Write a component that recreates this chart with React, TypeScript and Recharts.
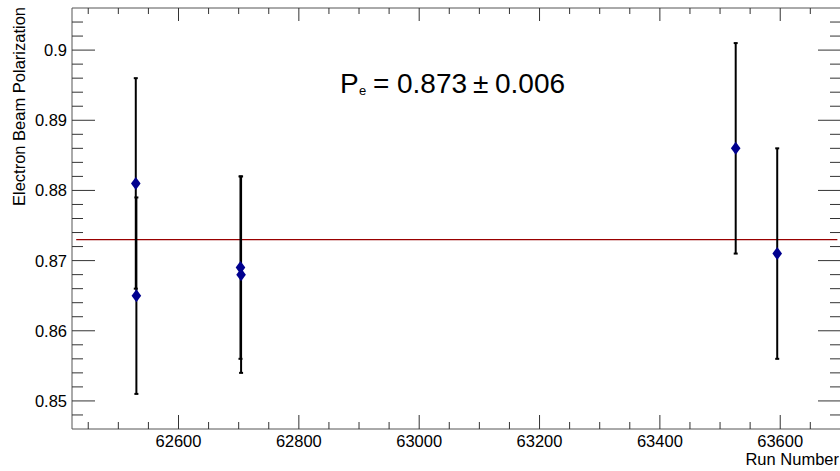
// Electron beam polarization per run, ROOT-style frame with inward ticks.
import { ErrorBar, ReferenceLine, Scatter, ScatterChart, XAxis, YAxis } from "recharts";

const runNumbers = [62529, 62530, 62703, 62704, 63526, 63595];
const polarization = [0.881, 0.865, 0.869, 0.868, 0.886, 0.871];
const polarizationErr = [0.015, 0.014, 0.013, 0.014, 0.015, 0.015];

const fitValue = 0.873;
const fitRuns = [62430, 63695];

const xDomain = [62423, 63701];
const yDomain = [0.846, 0.906];

const xMajorTicks = [62600, 62800, 63000, 63200, 63400, 63600];
const xMinorTicks = [
  62450, 62500, 62550, 62650, 62700, 62750, 62850, 62900, 62950, 63050,
  63100, 63150, 63250, 63300, 63350, 63450, 63500, 63550, 63650,
];
const yMajorTicks = [0.85, 0.86, 0.87, 0.88, 0.89, 0.9];
const yMinorTicks = [
  0.848, 0.852, 0.854, 0.856, 0.858, 0.862, 0.864, 0.866, 0.868, 0.872,
  0.874, 0.876, 0.878, 0.882, 0.884, 0.886, 0.888, 0.892, 0.894, 0.896,
  0.898, 0.902, 0.904,
];

const points = runNumbers.map((run, i) => ({
  run,
  pol: polarization[i],
  err: polarizationErr[i],
}));

const xTicks = [...xMajorTicks, ...xMinorTicks].sort((a, b) => a - b);
const yTicks = [...yMajorTicks, ...yMinorTicks].sort((a, b) => a - b);

const FONT = "'Liberation Sans', Arial, Helvetica, sans-serif";
const TICK = "#333";
const AXIS = "#555";

const isMajor = (list: number[], v: number) => list.some((m) => Math.abs(m - v) < 1e-9);

function BottomTick({ x, y, payload }: any) {
  const major = isMajor(xMajorTicks, payload.value);
  return (
    <g>
      <line x1={x} y1={y} x2={x} y2={y - (major ? 14 : 7)} stroke={TICK} />
      {major && (
        <text x={x} y={y + 18} textAnchor="middle" fontSize={16.5} fontFamily={FONT} fill="#000">
          {payload.value}
        </text>
      )}
    </g>
  );
}

function TopTick({ x, y, payload }: any) {
  const major = isMajor(xMajorTicks, payload.value);
  return <line x1={x} y1={y} x2={x} y2={y + (major ? 13 : 6)} stroke={TICK} />;
}

function LeftTick({ x, y, payload }: any) {
  const major = isMajor(yMajorTicks, payload.value);
  return (
    <g>
      <line x1={x} y1={y} x2={x + (major ? 23 : 11)} y2={y} stroke={TICK} />
      {major && (
        <text x={x - 5} y={y + 6} textAnchor="end" fontSize={16.5} fontFamily={FONT} fill="#000">
          {String(payload.value)}
        </text>
      )}
    </g>
  );
}

function RightTick({ x, y, payload }: any) {
  const major = isMajor(yMajorTicks, payload.value);
  return <line x1={x} y1={y} x2={x - (major ? 23 : 11)} y2={y} stroke={TICK} />;
}

function Diamond({ cx, cy }: any) {
  return (
    <polygon
      points={`${cx},${cy - 6.5} ${cx + 4.8},${cy} ${cx},${cy + 6.5} ${cx - 4.8},${cy}`}
      fill="#00008f"
    />
  );
}

export default function App() {
  return (
    <div style={{ position: "absolute", left: 0, top: 0, width: 840, height: 471, overflow: "hidden", background: "#fff" }}>
      <ScatterChart width={845} height={471} margin={{ top: 7, right: 0, bottom: 0, left: 0 }}>
        <XAxis
          xAxisId="b"
          type="number"
          dataKey="run"
          domain={xDomain}
          ticks={xTicks}
          interval={0}
          tick={BottomTick}
          tickLine={false}
          tickSize={0}
          tickMargin={0}
          axisLine={{ stroke: AXIS }}
          height={42}
          allowDataOverflow
        />
        <XAxis
          xAxisId="t"
          orientation="top"
          type="number"
          dataKey="run"
          domain={xDomain}
          ticks={xTicks}
          interval={0}
          tick={TopTick}
          tickLine={false}
          tickSize={0}
          tickMargin={0}
          axisLine={{ stroke: AXIS }}
          height={1}
          allowDataOverflow
        />
        <YAxis
          yAxisId="l"
          type="number"
          dataKey="pol"
          domain={yDomain}
          ticks={yTicks}
          interval={0}
          tick={LeftTick}
          tickLine={false}
          tickSize={0}
          tickMargin={0}
          axisLine={{ stroke: AXIS }}
          width={72}
          allowDataOverflow
        />
        <YAxis
          yAxisId="r"
          orientation="right"
          type="number"
          dataKey="pol"
          domain={yDomain}
          ticks={yTicks}
          interval={0}
          tick={RightTick}
          tickLine={false}
          tickSize={0}
          tickMargin={0}
          axisLine={{ stroke: AXIS }}
          width={4}
          allowDataOverflow
        />
        <ReferenceLine
          xAxisId="b"
          yAxisId="l"
          segment={[
            { x: fitRuns[0], y: fitValue },
            { x: fitRuns[1], y: fitValue },
          ]}
          stroke="#990000"
          strokeWidth={1.2}
        />
        <Scatter xAxisId="t" yAxisId="r" data={points} shape={() => null} isAnimationActive={false} />
        <Scatter xAxisId="b" yAxisId="l" data={points} shape={Diamond} isAnimationActive={false}>
          <ErrorBar dataKey="err" direction="y" width={2} stroke="#000" strokeWidth={2} />
        </Scatter>
      </ScatterChart>
      <svg width={840} height={471} style={{ position: "absolute", left: 0, top: 0, pointerEvents: "none" }}>
        <text transform="rotate(-90)" x={-7} y={25} textAnchor="end" fontSize={16.5} fontFamily={FONT} fill="#000">
          Electron Beam Polarization
        </text>
        <text x={839} y={465} textAnchor="end" fontSize={16.5} fontFamily={FONT} fill="#000">
          Run Number
        </text>
        <g fontFamily={FONT} fill="#000">
          <text x={340} y={93} fontSize={28}>P</text>
          <text x={359} y={95} fontSize={13}>e</text>
          <text x={373} y={93} fontSize={28}>=</text>
          <text x={397} y={93} fontSize={28}>0.873</text>
          <text x={473} y={93} fontSize={28}>±</text>
          <text x={495} y={93} fontSize={28}>0.006</text>
        </g>
      </svg>
    </div>
  );
}
